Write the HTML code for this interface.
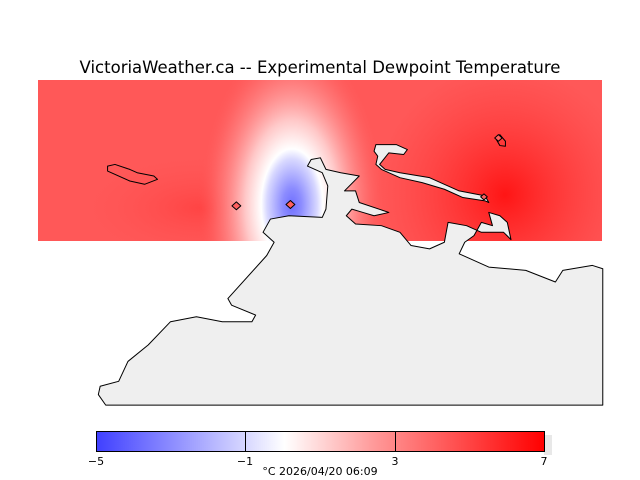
<!DOCTYPE html>
<html><head><style>body{margin:0;background:#fff}svg{display:block}</style></head><body>
<svg width="640" height="480" xmlns="http://www.w3.org/2000/svg" font-family="'DejaVu Sans','Liberation Sans',sans-serif">
<defs>
<radialGradient id="hot" cx="505" cy="195" r="130" gradientUnits="userSpaceOnUse">
<stop offset="0" stop-color="#ff1515"/><stop offset="1" stop-color="#ff3a3a" stop-opacity="0"/></radialGradient>
<radialGradient id="lh" cx="200" cy="208" r="120" gradientTransform="translate(200 208) scale(1 0.45) translate(-200 -208)" gradientUnits="userSpaceOnUse">
<stop offset="0" stop-color="#ff4444"/><stop offset="1" stop-color="#ff5555" stop-opacity="0"/></radialGradient>
<radialGradient id="cold" cx="292" cy="205" r="170" gradientTransform="translate(292 205) scale(0.55 1) translate(-292 -205)" gradientUnits="userSpaceOnUse">
<stop offset="0" stop-color="#7070ff"/><stop offset="0.1" stop-color="#8c8cff"/><stop offset="0.27" stop-color="#d8d8ff"/><stop offset="0.33" stop-color="#ffffff"/><stop offset="0.5" stop-color="#ffc8c8"/><stop offset="0.8" stop-color="#ff8080" stop-opacity="0.5"/><stop offset="1" stop-color="#ff5555" stop-opacity="0"/></radialGradient>
<linearGradient id="cb" x1="0" x2="1">
<stop offset="0" stop-color="#4040ff"/><stop offset="0.42" stop-color="#ffffff"/><stop offset="0.62" stop-color="#ff9999"/><stop offset="1" stop-color="#ff0000"/></linearGradient>
</defs>
<text x="320" y="73" text-anchor="middle" font-size="16.5">VictoriaWeather.ca -- Experimental Dewpoint Temperature</text>
<rect x="38" y="80" width="564" height="161" fill="#ff5858"/>
<rect x="38" y="80" width="564" height="161" fill="url(#lh)"/>
<rect x="38" y="80" width="564" height="161" fill="url(#hot)"/>
<rect x="38" y="80" width="564" height="161" fill="url(#cold)"/>
<g transform="translate(29.86,70.07) scale(0.3701,0.3311)" stroke="#000" stroke-linejoin="round">
<path vector-effect="non-scaling-stroke" fill="#efefef" d="M630,490 L650,450 L700,440 L790,445 L800,420 L805,350 L790,310 L750,290 L760,270 L785,265 L800,300 L840,310 L890,320 L850,365 L880,365 L890,400 L970,430 L930,440 L900,430 L870,420 L855,440 L880,465 L950,470 L1000,490 L1030,530 L1080,540 L1120,520 L1130,460 L1180,470 L1220,490 L1280,490 L1300,512 L1290,460 L1270,440 L1240,430 L1250,470 L1220,460 L1200,500 L1175,520 L1160,555 L1240,595 L1340,605 L1420,640 L1440,605 L1520,590 L1548,600 L1548,1012 L205,1012 L185,980 L190,955 L240,940 L265,880 L320,830 L380,760 L450,745 L520,760 L600,760 L610,740 L545,710 L535,690 L640,560 L660,520 Z"/>
<path vector-effect="non-scaling-stroke" fill="#efefef" d="M930,245 L935,225 L990,225 L1020,240 L1010,255 L970,250 L945,285 L960,300 L1000,310 L1080,325 L1110,340 L1160,365 L1230,380 L1240,400 L1230,395 L1170,385 L1120,360 L1060,340 L1000,325 L950,300 L935,285 L940,260 Z"/>
<path vector-effect="non-scaling-stroke" fill="none" d="M210,290 L230,285 L270,300 L290,310 L335,320 L345,330 L310,345 L270,335 L210,305 Z"/>
<path vector-effect="non-scaling-stroke" fill="none" d="M1258,205 L1270,195 L1285,215 L1285,230 L1270,228 Z"/>
<g fill="#ff6060"><path vector-effect="non-scaling-stroke" d="M558,398 L570,410 L558,422 L546,410 Z"/><path vector-effect="non-scaling-stroke" d="M704,394 L716,406 L704,418 L692,406 Z"/><path vector-effect="non-scaling-stroke" d="M1266,195 L1276,205 L1266,215 L1256,205 Z"/><path vector-effect="non-scaling-stroke" d="M1227,374 L1236,383 L1227,392 L1218,383 Z"/></g>
</g>
<rect x="544" y="435" width="8" height="20" fill="#e8e8e8"/>
<rect x="96.5" y="431.5" width="448" height="20" fill="url(#cb)" stroke="#000"/>
<line x1="245.5" y1="431" x2="245.5" y2="452" stroke="#000"/>
<line x1="395.5" y1="431" x2="395.5" y2="452" stroke="#000"/>
<g font-size="11" text-anchor="middle">
<text x="96" y="465">−5</text><text x="245" y="465">−1</text><text x="395" y="465">3</text><text x="544" y="465">7</text>
<text x="320" y="475">°C  2026/04/20 06:09</text></g>
</svg>
</body></html>
